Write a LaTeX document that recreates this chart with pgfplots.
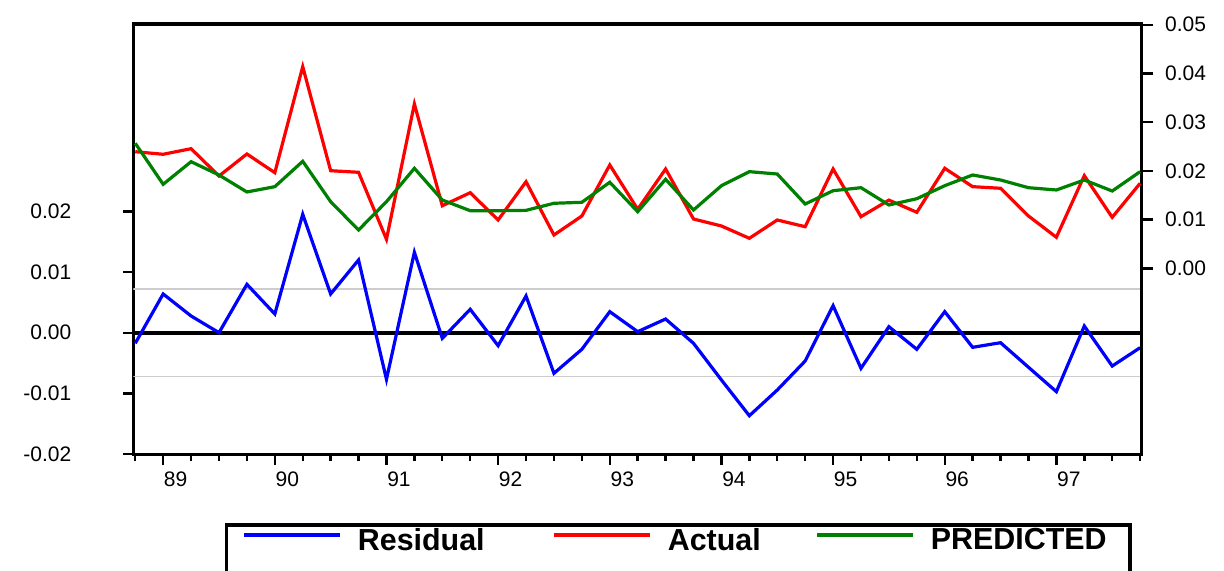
\documentclass[border=0pt]{standalone}
\usepackage{fontspec}
\setmainfont{Liberation Sans}
\usepackage{pgfplots}
\pgfplotsset{compat=1.18}
\definecolor{egreen}{RGB}{0,128,0}
\definecolor{bandgray}{RGB}{205,205,205}
\begin{document}
\begin{tikzpicture}[x=1pt,y=1pt]
\useasboundingbox (0,0) rectangle (612,285);
\begin{axis}[
  at={(66.65pt,57.75pt)}, anchor=south west,
  scale only axis, width=504.1pt, height=215.25pt,
  xmin=-0.07, xmax=36.05, ymin=-0.0201, ymax=0.05094,
  scaled y ticks=false, scaled x ticks=false,
  axis line style={line width=1.6pt},
  tick style={black, line width=1.2pt},
  tick align=outside, xtick pos=bottom, ytick pos=left,
  major tick length=5pt, minor tick length=3.3pt,
  xtick={1,5,9,13,17,21,25,29,33},
  xticklabels={89,90,91,92,93,94,95,96,97},
  minor xtick={0,1,...,36},
  ytick={-0.02,-0.01,0,0.01,0.02},
  yticklabels={-0.02,-0.01,0.00,0.01,0.02},
  ticklabel style={font=\fontsize{10.5}{12}\selectfont, inner sep=0pt},
  xticklabel style={anchor=north, xshift=6.25pt, yshift=-3.6pt},
  yticklabel style={anchor=east, xshift=-25.8pt},
  /pgf/number format/assume math mode=true,
]
\addplot[bandgray, line width=0.6pt, forget plot] coordinates {(-1,0.0072) (37,0.0072)};
\addplot[bandgray, line width=0.6pt, forget plot] coordinates {(-1,-0.0072) (37,-0.0072)};
\addplot[black, line width=2.2pt, forget plot] coordinates {(-1,0) (37,0)};
\addplot[blue, line width=1.6pt, forget plot] coordinates {
(0,-0.00175) (1,0.00639) (2,0.00276) (3,0.0000) (4,0.00798) (5,0.00309)
(6,0.01954) (7,0.00639) (8,0.0120) (9,-0.00770) (10,0.01327) (11,-0.00093)
(12,0.00386) (13,-0.00214) (14,0.00606) (15,-0.0067) (16,-0.00274) (17,0.00347)
(18,0.00017) (19,0.00226) (20,-0.00175) (21,-0.0078) (22,-0.0137) (23,-0.00946)
(24,-0.00467) (25,0.00446) (26,-0.00588) (27,0.00099) (28,-0.00274) (29,0.00347)
(30,-0.00241) (31,-0.00165) (32,-0.0057) (33,-0.00973) (34,0.0011) (35,-0.0055)
(36,-0.00247)};
\end{axis}
\begin{axis}[
  at={(66.65pt,57.75pt)}, anchor=south west,
  scale only axis, width=504.1pt, height=215.25pt,
  xmin=-0.07, xmax=36.05, ymin=-0.03823, ymax=0.05016,
  scaled y ticks=false,
  axis x line=none, axis y line*=right,
  axis line style={line width=1.6pt},
  tick style={black, line width=1.2pt},
  tick align=outside, major tick length=5.5pt,
  ytick={0,0.01,0.02,0.03,0.04,0.05},
  yticklabels={0.00,0.01,0.02,0.03,0.04,0.05},
  ticklabel style={font=\fontsize{10.5}{12}\selectfont, inner sep=0pt},
  yticklabel style={anchor=west, xshift=6.1pt},
  /pgf/number format/assume math mode=true,
  legend image code/.code={\draw[#1] (0pt,2.75pt) -- (48pt,2.75pt); \path[draw=none] (0pt,-2.75pt) -- (48pt,-2.75pt);},
  legend columns=3,
  legend cell align=left,
  legend style={at={(0.1085,-0.1998)}, anchor=west, draw=none, fill=none,
    inner sep=0pt, outer sep=0pt,
    nodes={inner sep=0pt, outer sep=0pt},
    font=\fontsize{15.2}{18}\selectfont\bfseries,
    /tikz/every odd column/.append style={column sep=8pt}},
]
\addlegendimage{blue, line width=1.6pt}
\addlegendentry{Residual\hspace*{34pt}}
\addplot[red, line width=1.6pt] coordinates {
(0,0.02394) (1,0.02341) (2,0.02456) (3,0.01895) (4,0.02347) (5,0.01963)
(6,0.0414) (7,0.02004) (8,0.01971) (9,0.00595) (10,0.03374) (11,0.01285)
(12,0.01552) (13,0.00992) (14,0.01778) (15,0.00684) (16,0.01074) (17,0.02121)
(18,0.01211) (19,0.02039) (20,0.01012) (21,0.00869) (22,0.00616) (23,0.00992)
(24,0.00854) (25,0.02039) (26,0.0106) (27,0.0140) (28,0.0115) (29,0.02053)
(30,0.01676) (31,0.01643) (32,0.01074) (33,0.00637) (34,0.01902) (35,0.01047)
(36,0.01745)};
\addlegendentry{Actual\hspace*{27.5pt}}
\addplot[egreen, line width=1.6pt] coordinates {
(0,0.02567) (1,0.01725) (2,0.02189) (3,0.01916) (4,0.01567) (5,0.01676)
(6,0.02197) (7,0.01368) (8,0.00786) (9,0.01368) (10,0.02053) (11,0.01402)
(12,0.01183) (13,0.01183) (14,0.0119) (15,0.01335) (16,0.01355) (17,0.01766)
(18,0.01162) (19,0.01828) (20,0.01197) (21,0.01696) (22,0.01984) (23,0.01936)
(24,0.0132) (25,0.01593) (26,0.01655) (27,0.0130) (28,0.01429) (29,0.01696)
(30,0.01916) (31,0.01813) (32,0.01655) (33,0.01608) (34,0.01813) (35,0.01587)
(36,0.01984)};
\addlegendentry{PREDICTED}
\end{axis}
\draw[line width=1.6pt] (113.3,-20) rectangle (565,22.5);
\end{tikzpicture}
\end{document}
